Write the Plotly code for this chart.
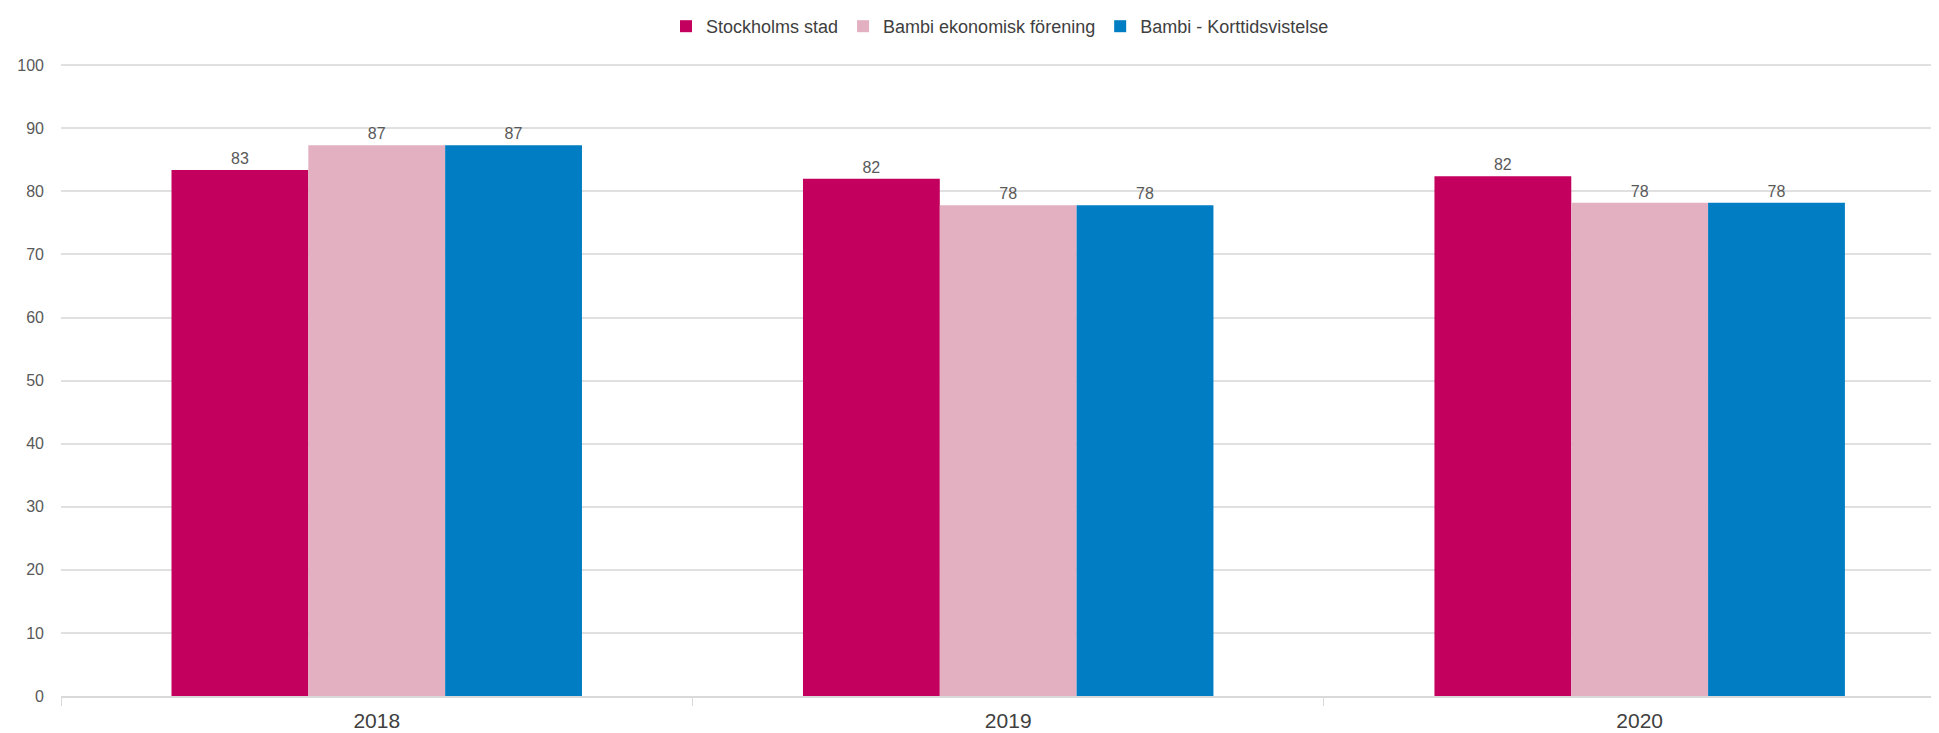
import plotly.graph_objects as go

years = ["2018", "2019", "2020"]
series_names = ["Stockholms stad", "Bambi ekonomisk förening", "Bambi - Korttidsvistelse"]
stockholm = [83.4, 82.0, 82.4]
bambi_ek = [87.3, 77.8, 78.2]
bambi_kort = [87.3, 77.8, 78.2]
colors = ["#C4005F", "#E2B0C0", "#007DC3"]

fig = go.Figure()
for name, vals, col in zip(series_names, [stockholm, bambi_ek, bambi_kort], colors):
    fig.add_trace(go.Bar(
        x=years,
        y=vals,
        name=name,
        marker=dict(color=col, line=dict(width=0)),
        texttemplate="%{y:.0f}",
        textposition="outside",
        textfont=dict(size=16, color="#595959"),
        cliponaxis=False,
    ))

# the page body has an 8px margin, so size the figure to fit the window
fig.update_layout(
    width=1931,
    height=725,
    margin=dict(l=53, r=0, t=56, b=37),
    paper_bgcolor="white",
    plot_bgcolor="white",
    font=dict(family="Liberation Sans, Arial, sans-serif", color="#404040"),
    barmode="group",
    bargap=0.35,
    bargroupgap=0,
    legend=dict(
        orientation="h",
        x=0.5, xanchor="center",
        y=1.0, yanchor="top",
        yref="container",
        font=dict(size=18, color="#404040"),
        itemwidth=30,
    ),
    showlegend=True,
)

fig.update_xaxes(
    type="category",
    range=[-0.5, 2.474],
    automargin=False,
    showgrid=False,
    showline=True,
    linecolor="#d9d9d9",
    linewidth=2,
    ticks="outside",
    tickson="boundaries",
    ticklen=8,
    tickcolor="#d9d9d9",
    tickfont=dict(size=21, color="#404040"),
    ticklabelstandoff=5,
)
fig.update_yaxes(
    range=[0, 100.2],
    dtick=10,
    automargin=False,
    showgrid=True,
    gridcolor="#e0e0e0",
    gridwidth=1.5,
    zeroline=False,
    showline=False,
    tickfont=dict(size=16, color="#595959"),
    ticklabelstandoff=16,
)

fig.write_html("out.html")
